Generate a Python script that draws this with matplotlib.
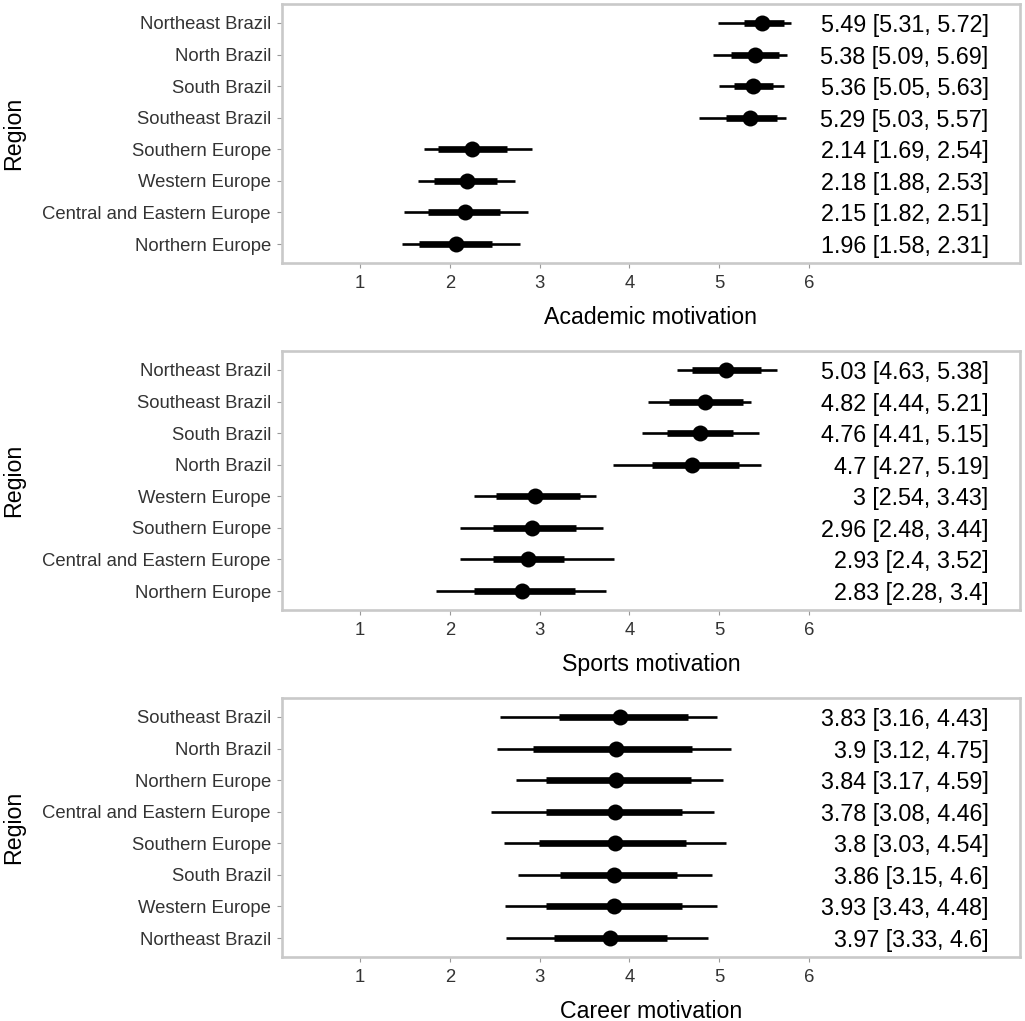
import matplotlib
matplotlib.use("Agg")
import matplotlib.pyplot as plt

plt.rcParams['font.family'] = ['Liberation Sans', 'DejaVu Sans']

# academic motivation, top row first
acad_regions = ["Northeast Brazil", "North Brazil", "South Brazil", "Southeast Brazil",
                "Southern Europe", "Western Europe", "Central and Eastern Europe", "Northern Europe"]
acad_point = [5.48, 5.40, 5.38, 5.34, 2.25, 2.19, 2.17, 2.07]
acad_low95 = [4.99, 4.93, 5.00, 4.77, 1.71, 1.64, 1.49, 1.47]
acad_high95 = [5.80, 5.75, 5.72, 5.74, 2.91, 2.72, 2.87, 2.78]
acad_low66 = [5.28, 5.13, 5.16, 5.08, 1.87, 1.82, 1.76, 1.66]
acad_high66 = [5.72, 5.67, 5.60, 5.64, 2.64, 2.53, 2.56, 2.47]
acad_text = ["5.49 [5.31, 5.72]", "5.38 [5.09, 5.69]", "5.36 [5.05, 5.63]", "5.29 [5.03, 5.57]",
             "2.14 [1.69, 2.54]", "2.18 [1.88, 2.53]", "2.15 [1.82, 2.51]", "1.96 [1.58, 2.31]"]

# sports motivation
sport_regions = ["Northeast Brazil", "Southeast Brazil", "South Brazil", "North Brazil",
                 "Western Europe", "Southern Europe", "Central and Eastern Europe", "Northern Europe"]
sport_point = [5.08, 4.84, 4.79, 4.70, 2.95, 2.92, 2.87, 2.80]
sport_low95 = [4.53, 4.21, 4.14, 3.82, 2.27, 2.11, 2.11, 1.84]
sport_high95 = [5.64, 5.35, 5.44, 5.46, 3.63, 3.71, 3.83, 3.74]
sport_low66 = [4.70, 4.44, 4.42, 4.25, 2.51, 2.48, 2.48, 2.27]
sport_high66 = [5.47, 5.27, 5.15, 5.22, 3.45, 3.40, 3.27, 3.39]
sport_text = ["5.03 [4.63, 5.38]", "4.82 [4.44, 5.21]", "4.76 [4.41, 5.15]", "4.7 [4.27, 5.19]",
              "3 [2.54, 3.43]", "2.96 [2.48, 3.44]", "2.93 [2.4, 3.52]", "2.83 [2.28, 3.4]"]

# career motivation
career_regions = ["Southeast Brazil", "North Brazil", "Northern Europe", "Central and Eastern Europe",
                  "Southern Europe", "South Brazil", "Western Europe", "Northeast Brazil"]
career_point = [3.89, 3.85, 3.85, 3.84, 3.84, 3.83, 3.83, 3.78]
career_low95 = [2.56, 2.53, 2.74, 2.46, 2.60, 2.76, 2.61, 2.62]
career_high95 = [4.97, 5.13, 5.04, 4.94, 5.07, 4.92, 4.97, 4.87]
career_low66 = [3.22, 2.93, 3.07, 3.07, 2.99, 3.23, 3.07, 3.16]
career_high66 = [4.65, 4.70, 4.69, 4.59, 4.63, 4.53, 4.59, 4.42]
career_text = ["3.83 [3.16, 4.43]", "3.9 [3.12, 4.75]", "3.84 [3.17, 4.59]", "3.78 [3.08, 4.46]",
               "3.8 [3.03, 4.54]", "3.86 [3.15, 4.6]", "3.93 [3.43, 4.48]", "3.97 [3.33, 4.6]"]

x_ticks = [1, 2, 3, 4, 5, 6]

W, H = 1025, 1021
fig = plt.figure(figsize=(W / 100, H / 100), dpi=100)


def draw_panel(top, bottom, title, regions, point, low95, high95, low66, high66, labels):
    ax = fig.add_axes([282 / W, 1 - bottom / H, (1020 - 282) / W, (bottom - top) / H])
    y = list(range(len(regions), 0, -1))
    ax.hlines(y, low95, high95, color="black", lw=1.9, zorder=2)
    ax.hlines(y, low66, high66, color="black", lw=4.8, zorder=3)
    ax.plot(point, y, "o", color="black", ms=11.5, mew=0, zorder=4)
    for yy, lab in zip(y, labels):
        ax.text(8.0, yy, lab, ha="right", va="center_baseline", fontsize=16.8, color="black")
    ax.set_xlim(0.13, 8.35)
    ax.set_ylim(0.4, 8.6)
    ax.set_xticks(x_ticks)
    ax.set_yticks(y)
    ax.set_yticklabels(regions)
    ax.tick_params(axis="both", length=3.5, width=0.8, color="#999999",
                   labelcolor="#333333", labelsize=13.35, pad=4.5)
    ax.tick_params(axis="x", pad=5)
    for s in ax.spines.values():
        s.set_color("#c9c9c9")
        s.set_linewidth(1.9)
    h = bottom - top
    pw = 1020 - 282
    ax.set_xlabel(title, fontsize=16.7, va="center")
    ax.xaxis.set_label_coords((651 - 282) / pw, -54 / h, transform=ax.transAxes)
    ax.set_ylabel("Region", fontsize=16.7, va="center")
    ax.yaxis.set_label_coords((14 - 282) / pw, 0.5, transform=ax.transAxes)
    return ax


draw_panel(4, 263, "Academic motivation", acad_regions, acad_point, acad_low95, acad_high95,
           acad_low66, acad_high66, acad_text)
draw_panel(351, 610, "Sports motivation", sport_regions, sport_point, sport_low95, sport_high95,
           sport_low66, sport_high66, sport_text)
draw_panel(698, 957, "Career motivation", career_regions, career_point, career_low95, career_high95,
           career_low66, career_high66, career_text)

fig.savefig("out.png", dpi=100)
